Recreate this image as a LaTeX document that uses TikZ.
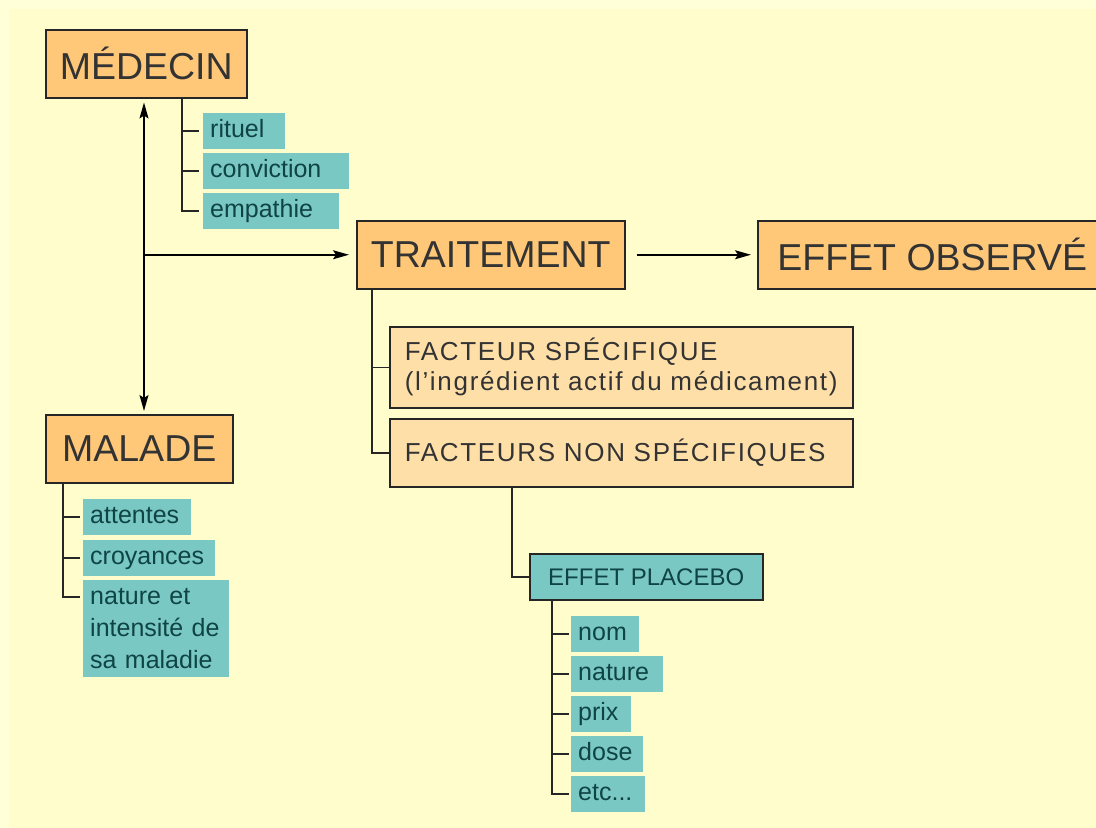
\documentclass[tikz,border=0pt]{standalone}
\usepackage{fontspec}
\setmainfont{Liberation Sans}
\usetikzlibrary{calc,arrows.meta}
\definecolor{bgout}{HTML}{FFFFD8}
\definecolor{bgin}{HTML}{FFFDCC}
\definecolor{orng}{HTML}{FFC878}
\definecolor{lorng}{HTML}{FFDFA8}
\definecolor{teal1}{HTML}{7AC8C4}
\definecolor{ink}{HTML}{333333}
\definecolor{tink}{HTML}{0F4444}
\tikzset{
  big/.style={draw=black!85,fill=orng,line width=1.5pt,text=ink,inner sep=0pt,anchor=north west,minimum height=68pt,font=\fontsize{37.5}{40}\selectfont},
  fac/.style={draw=black!85,fill=lorng,line width=1.5pt,text=ink,inner xsep=15pt,inner ysep=0pt,anchor=north west,align=left,text width=433pt,font=\fontsize{26}{30}\selectfont\addfontfeatures{LetterSpace=6.5}},
  plc/.style={draw=black!85,fill=teal1,line width=1.5pt,text=tink,inner sep=0pt,anchor=north west,font=\fontsize{24}{28}\selectfont},
  leaf/.style={fill=teal1,text=tink,anchor=north west,inner xsep=7pt,inner ysep=0pt,align=left,font=\fontsize{25}{32}\selectfont},
  itm/.style={leaf,text width=#1,minimum height=36pt,text height=18pt,text depth=5pt},
  tree/.style={line width=1.5pt,black!85},
  arr/.style={-{Stealth[length=16pt,width=9pt,inset=3pt]},line width=1.5pt},
  darr/.style={{Stealth[length=16pt,width=9pt,inset=3pt]}-{Stealth[length=16pt,width=9pt,inset=3pt]},line width=1.5pt}
}
\begin{document}
\begin{tikzpicture}[x=1pt,y=-1pt]
\useasboundingbox (0,0) rectangle (1096,828);
\fill[bgout] (0,0) rectangle (1096,828);
\fill[bgin] (9,9) rectangle (1096,828);
% main boxes
\node[big,minimum width=201pt] (med) at (45,29) {MÉDECIN};
\node[big,minimum width=187pt] (mal) at (45,414) {MALADE};
\node[big,minimum width=268pt] (tr) at (356,220) {TRAITEMENT};
\node[big,minimum width=349pt] (eff) at (757,220) {EFFET OBSERVÉ};
% facteurs
\node[fac,minimum height=81pt] (fs) at (389,326) {FACTEUR SPÉCIFIQUE\\(l’ingrédient actif du médicament)};
\node[fac,minimum height=68pt] (fns) at (389,418) {FACTEURS NON SPÉCIFIQUES};
\node[plc,minimum width=233pt,minimum height=46pt] (pl) at (529,553) {EFFET PLACEBO};
% items
\node[itm=68pt] (rit) at (203,113) {rituel};
\node[itm=132pt] (conv) at (203,153) {conviction};
\node[itm=122pt] (emp) at (203,193) {empathie};
\node[itm=94pt] (att) at (83,499) {attentes};
\node[itm=118pt] (cro) at (83,540) {croyances};
\node[leaf,text width=132pt,minimum height=97pt] (nat) at (83,580) {nature et\\intensité de\\sa maladie};
\node[itm=54pt] (nom) at (571,616) {nom};
\node[itm=78pt] (natp) at (571,656) {nature};
\node[itm=46pt] (prx) at (571,696) {prix};
\node[itm=58pt] (dos) at (571,736) {dose};
\node[itm=60pt] (etc) at (571,776) {etc...};
% arrows
\coordinate (vt) at ($(med.south west)+(99,4)$);
\coordinate (vb) at ($(mal.north west)+(99,-3)$);
\draw[darr] (vt) -- (vb);
\draw[arr,shorten >=7pt] (vt |- tr.west) -- (tr.west);
\draw[arr,shorten <=11pt,shorten >=6pt] (tr.east) -- (eff.west);
% trees
\draw[tree] ($(med.south west)+(137,0)$) |- ([xshift=-4pt]rit.west);
\draw[tree] ($(med.south west)+(137,0)$) |- ([xshift=-4pt]conv.west);
\draw[tree] ($(med.south west)+(137,0)$) |- ([xshift=-4pt]emp.west);
\draw[tree] ($(mal.south west)+(18,0)$) |- ([xshift=-3pt]att.west);
\draw[tree] ($(mal.south west)+(18,0)$) |- ([xshift=-3pt]cro.west);
\draw[tree] ($(mal.south west)+(18,0)$) |- ([xshift=-3pt,yshift=-17pt]nat.north west);
\draw[tree] ($(tr.south west)+(16,0)$) |- (fs.west);
\draw[tree] ($(tr.south west)+(16,0)$) |- (fns.west);
\draw[tree] ($(fns.south west)+(123,0)$) |- (pl.west);
\foreach \k in {nom,natp,prx,dos,etc}
  \draw[tree] ($(pl.south west)+(23,0)$) |- ([xshift=-2pt]\k.west);
\end{tikzpicture}
\end{document}
